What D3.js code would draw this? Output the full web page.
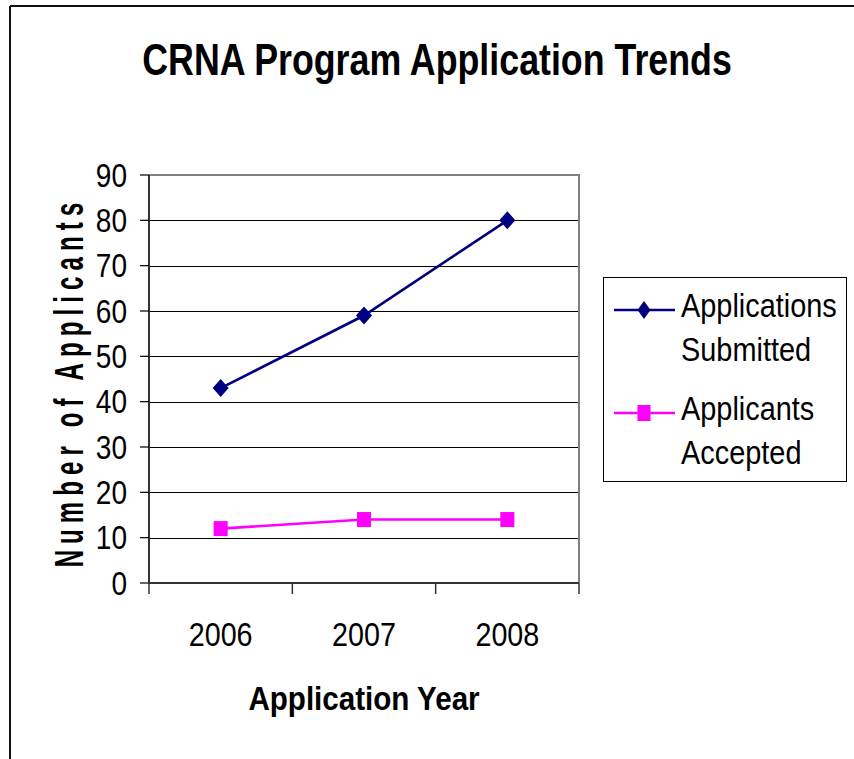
<!DOCTYPE html>
<html>
<head>
<meta charset="utf-8">
<script src="https://cdn.jsdelivr.net/npm/d3@7"></script>
<style>
  html, body { margin: 0; padding: 0; background: #fff; }
  svg { display: block; }
  text { font-family: "Liberation Sans", Arial, sans-serif; fill: #000; }
</style>
</head>
<body>
<svg id="chart" width="854" height="759"></svg>
<script>
// ---- data ----
const years = ["2006", "2007", "2008"];
const submitted = [43, 59, 80];
const accepted = [12, 14, 14];
const yTicks = [0, 10, 20, 30, 40, 50, 60, 70, 80, 90];
const seriesNames = [["Applications", "Submitted"], ["Applicants", "Accepted"]];
const titleText = "CRNA Program Application Trends";
const xTitle = "Application Year";
const yTitle = "Number of Applicants";

const svg = d3.select("#chart");

// outer frame (top and left edges visible)
svg.append("line").attr("x1", 10).attr("x2", 854).attr("y1", 6).attr("y2", 6)
  .attr("stroke", "#111").attr("stroke-width", 2);
svg.append("line").attr("x1", 10).attr("x2", 10).attr("y1", 6).attr("y2", 759)
  .attr("stroke", "#111").attr("stroke-width", 2);

const plot = { left: 149, right: 579, top: 175, bottom: 583 };
const x = d3.scaleBand().domain(years).range([plot.left, plot.right]).padding(0);
const y = d3.scaleLinear().domain([0, 90]).range([plot.bottom, plot.top]);

function sText(g, str, px, py, opts) {
  return g.append("text")
    .attr("transform", `translate(${px},${py}) scale(${opts.sx || 1},1)`)
    .attr("font-size", opts.size)
    .attr("font-weight", opts.bold ? "bold" : "normal")
    .attr("text-anchor", opts.anchor || "start")
    .text(str);
}

// title
sText(svg, titleText, 437, 75, { size: 45, bold: true, sx: 0.795, anchor: "middle" });

// gridlines
const grid = svg.append("g");
yTicks.filter(d => d > 0 && d < 90).forEach(d => {
  grid.append("line").attr("x1", plot.left).attr("x2", plot.right)
    .attr("y1", Math.round(y(d)) + 0.5).attr("y2", Math.round(y(d)) + 0.5)
    .attr("stroke", "#000").attr("stroke-width", 1);
});
// plot border top/right (gray)
svg.append("path")
  .attr("d", `M${plot.left},${y(90)}H${plot.right}V${plot.bottom}`)
  .attr("fill", "none").attr("stroke", "#808080").attr("stroke-width", 2);

// y axis
const ya = svg.append("g");
ya.append("line").attr("x1", plot.left).attr("x2", plot.left)
  .attr("y1", y(90)).attr("y2", plot.bottom).attr("stroke", "#333").attr("stroke-width", 2);
yTicks.forEach(d => {
  ya.append("line").attr("x1", plot.left - 9).attr("x2", plot.left)
    .attr("y1", y(d)).attr("y2", y(d)).attr("stroke", "#000").attr("stroke-width", 1.2);
  sText(ya, String(d), 127, y(d) + 11.5, { size: 33, sx: 0.85, anchor: "end" });
});

// x axis
const xa = svg.append("g");
xa.append("line").attr("x1", plot.left).attr("x2", plot.right)
  .attr("y1", plot.bottom).attr("y2", plot.bottom).attr("stroke", "#333").attr("stroke-width", 2);
const xEdges = years.map(d => x(d)).concat([x.range()[1]]);
xEdges.forEach(ex => {
  xa.append("line").attr("x1", ex).attr("x2", ex)
    .attr("y1", plot.bottom).attr("y2", plot.bottom + 11).attr("stroke", "#333").attr("stroke-width", 1.5);
});
years.forEach(d => {
  sText(xa, d, x(d) + x.bandwidth() / 2, 646, { size: 33, sx: 0.87, anchor: "middle" });
});

// axis titles
sText(svg, xTitle, 364, 710, { size: 34, bold: true, sx: 0.87, anchor: "middle" });
svg.append("text")
  .attr("transform", `translate(83,382) rotate(-90) scale(0.6,1)`)
  .attr("font-size", 40).attr("font-weight", "bold").attr("text-anchor", "middle")
  .attr("letter-spacing", 10.2)
  .text(yTitle);

// series
const line = d3.line().x((d, i) => x(years[i]) + x.bandwidth() / 2).y(d => y(d));
const diamond = (cx, cy, hw, hh) => `M${cx},${cy - hh}L${cx + hw},${cy}L${cx},${cy + hh}L${cx - hw},${cy}Z`;

svg.append("path").datum(submitted).attr("d", line)
  .attr("fill", "none").attr("stroke", "#000080").attr("stroke-width", 2.6);
svg.append("path").datum(accepted).attr("d", line)
  .attr("fill", "none").attr("stroke", "#FF00FF").attr("stroke-width", 2.6);

svg.selectAll(".dia").data(submitted).enter().append("path")
  .attr("d", (d, i) => diamond(x(years[i]) + x.bandwidth() / 2, y(d), 8, 9))
  .attr("fill", "#000080");
svg.selectAll(".sq").data(accepted).enter().append("rect")
  .attr("x", (d, i) => x(years[i]) + x.bandwidth() / 2 - 7)
  .attr("y", d => y(d) - 7.5).attr("width", 14).attr("height", 15)
  .attr("fill", "#FF00FF");

// legend
const lg = svg.append("g");
lg.append("rect").attr("x", 603.5).attr("y", 277.5).attr("width", 243).attr("height", 204)
  .attr("fill", "#fff").attr("stroke", "#000").attr("stroke-width", 1);
const legendY = [310, 413];
const colors = ["#000080", "#FF00FF"];
seriesNames.forEach((nm, i) => {
  const ly = legendY[i];
  lg.append("line").attr("x1", 614).attr("x2", 675).attr("y1", ly).attr("y2", ly)
    .attr("stroke", colors[i]).attr("stroke-width", 2.4);
  if (i === 0) {
    lg.append("path").attr("d", diamond(644, ly, 6.5, 9)).attr("fill", colors[i]);
  } else {
    lg.append("rect").attr("x", 637.5).attr("y", ly - 8).attr("width", 13).attr("height", 16).attr("fill", colors[i]);
  }
  sText(lg, nm[0], 681, ly + 7, { size: 34, sx: 0.85 });
  sText(lg, nm[1], 681, ly + 51, { size: 34, sx: 0.85 });
});
</script>
</body>
</html>
